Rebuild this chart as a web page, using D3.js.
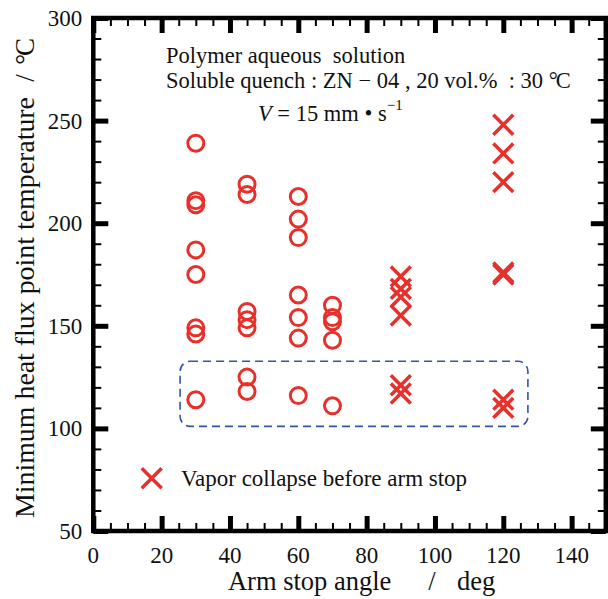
<!DOCTYPE html>
<meta charset="utf-8">
<script src="https://d3js.org/d3.v7.min.js"></script>
<style>
  body { margin: 0; background: #fff; }
  text { font-family: "Liberation Serif", "DejaVu Serif", serif; fill: #111; }
</style>
<div id="my_dataviz"></div>
<script>
  // data (angle in deg, temperature in degC)
  var circleAngles = [30, 30, 30, 30, 30, 30, 30, 30,
                      45, 45, 45, 45, 45, 45, 45,
                      60, 60, 60, 60, 60, 60, 60,
                      70, 70, 70, 70, 70];
  var circleTemps  = [239, 211, 209, 187, 175, 149, 146, 114,
                      219, 214, 157, 153, 149, 125, 118,
                      213, 202, 193, 165, 154, 144, 116,
                      160, 154, 152, 143, 111];
  var crossAngles = [90, 90, 90, 90, 90, 90, 120, 120, 120, 120, 120, 120, 120];
  var crossTemps  = [174, 168, 164, 155, 121, 117, 248, 234, 220, 176, 175, 114, 110];

  var xMajor = [0, 20, 40, 60, 80, 100, 120, 140];
  var yMajor = [50, 100, 150, 200, 250, 300];

  // dashed box around the low group, in data units
  var boxX = [25.4, 127.2], boxY = [101, 132.7];

  var red = "#e8302b", blue = "#3356a8";

  var margin = {top: 18, right: 2.2, bottom: 68, left: 93.3},
      width = 608 - margin.left - margin.right,
      height = 599 - margin.top - margin.bottom;

  var svg = d3.select("#my_dataviz")
    .append("svg")
      .attr("width", 608)
      .attr("height", 599)
    .append("g")
      .attr("transform", "translate(" + margin.left + "," + margin.top + ")");

  var x = d3.scaleLinear().domain([0, 150]).range([0, width]);
  var y = d3.scaleLinear().domain([50, 300]).range([height, 0]);

  var xMinor = d3.range(0, 151, 5).filter(function(d){ return d % 20 != 0; });
  var yMinor = d3.range(50, 301, 10).filter(function(d){ return d % 50 != 0; });

  // ticks pointing inward on all four sides
  function ticks(axisFn, vals, len, w, tr) {
    var g = svg.append("g")
      .attr("transform", tr || null)
      .call(axisFn.tickValues(vals).tickSize(-len).tickFormat(""));
    g.select(".domain").remove();
    g.selectAll("line").attr("stroke", "#000").attr("stroke-width", w);
    return g;
  }
  ticks(d3.axisBottom(x), xMinor, 8, 2, "translate(0," + height + ")");
  ticks(d3.axisBottom(x), xMajor, 15, 5, "translate(0," + height + ")");
  ticks(d3.axisTop(x), xMinor, 8, 2);
  ticks(d3.axisTop(x), xMajor, 15, 5);
  ticks(d3.axisLeft(y), yMinor, 8, 2);
  ticks(d3.axisLeft(y), yMajor, 15, 5);
  ticks(d3.axisRight(y), yMinor, 8, 2, "translate(" + width + ",0)");
  ticks(d3.axisRight(y), yMajor, 15, 5, "translate(" + width + ",0)");

  // tick labels
  svg.append("g").selectAll("text")
    .data(xMajor).enter().append("text")
      .attr("x", function(d){ return x(d); })
      .attr("y", height + 32)
      .attr("text-anchor", "middle")
      .style("font-size", "23px")
      .text(function(d){ return d; });
  svg.append("g").selectAll("text")
    .data(yMajor).enter().append("text")
      .attr("x", -11)
      .attr("y", function(d){ return y(d) + 8; })
      .attr("text-anchor", "end")
      .style("font-size", "23px")
      .text(function(d){ return d; });

  // frame
  svg.append("rect")
    .attr("width", width).attr("height", height)
    .attr("fill", "none").attr("stroke", "#000").attr("stroke-width", 4.5);

  // dashed box
  svg.append("rect")
    .attr("x", x(boxX[0])).attr("y", y(boxY[1]))
    .attr("width", x(boxX[1]) - x(boxX[0]))
    .attr("height", y(boxY[0]) - y(boxY[1]))
    .attr("rx", 10).attr("ry", 10)
    .attr("fill", "none").attr("stroke", blue)
    .attr("stroke-width", 1.6).attr("stroke-dasharray", "8,5");

  // circles
  svg.append("g").selectAll("circle")
    .data(circleAngles).enter().append("circle")
      .attr("cx", function(d){ return x(d); })
      .attr("cy", function(d, i){ return y(circleTemps[i]); })
      .attr("r", 8)
      .attr("fill", "none").attr("stroke", red).attr("stroke-width", 3);

  // crosses
  var cross = d3.symbol().type(d3.symbolX).size(260);
  svg.append("g").selectAll("path")
    .data(crossAngles).enter().append("path")
      .attr("transform", function(d, i){ return "translate(" + x(d) + "," + y(crossTemps[i]) + ")"; })
      .attr("d", cross)
      .attr("fill", "none").attr("stroke", red).attr("stroke-width", 3.5);

  // legend
  svg.append("path")
    .attr("transform", "translate(" + (151.7 - margin.left) + "," + (478.3 - margin.top) + ")")
    .attr("d", cross)
    .attr("fill", "none").attr("stroke", red).attr("stroke-width", 3.5);
  svg.append("text")
    .attr("x", 181 - margin.left).attr("y", 485.5 - margin.top)
    .style("font-size", "23px")
    .text("Vapor collapse before arm stop");

  // condition note
  svg.append("text")
    .attr("x", 166 - margin.left).attr("y", 63 - margin.top)
    .style("font-size", "22.5px")
    .attr("xml:space", "preserve")
    .text("Polymer aqueous  solution");
  var s2 = svg.append("text")
    .attr("x", 166 - margin.left).attr("y", 87.5 - margin.top)
    .style("font-size", "22.5px")
    .attr("xml:space", "preserve");
  s2.append("tspan").text("Soluble quench : ZN \u2212 04 , 20 vol.%  : 30 ");
  s2.append("tspan").attr("letter-spacing", "-2").text("\u00B0C");
  var v = svg.append("text")
    .attr("x", 258 - margin.left).attr("y", 120.5 - margin.top)
    .style("font-size", "22.5px")
    .attr("xml:space", "preserve");
  v.append("tspan").style("font-style", "italic").text("V");
  v.append("tspan").text(" = 15 mm \u2022 s");
  v.append("tspan").attr("dy", -11).style("font-size", "15px").text("\u22121");

  // axis titles
  svg.append("text")
    .attr("x", 228 - margin.left).attr("y", 590 - margin.top)
    .style("font-size", "26.5px")
    .text("Arm stop angle");
  svg.append("text")
    .attr("x", 432 - margin.left).attr("y", 590 - margin.top)
    .attr("text-anchor", "middle")
    .style("font-size", "26.5px")
    .text("/");
  svg.append("text")
    .attr("x", 457 - margin.left).attr("y", 590 - margin.top)
    .style("font-size", "26.5px")
    .text("deg");

  var yt = svg.append("g")
    .attr("transform", "translate(" + (34 - margin.left) + ",0) rotate(-90)");
  yt.append("text")
    .attr("x", -(518 - margin.top))
    .attr("textLength", 421).attr("lengthAdjust", "spacingAndGlyphs")
    .style("font-size", "27.5px")
    .text("Minimum heat flux point temperature");
  yt.append("text")
    .attr("x", -(78 - margin.top))
    .attr("text-anchor", "middle")
    .style("font-size", "27px")
    .text("/");
  yt.append("text")
    .attr("x", -(40 - margin.top))
    .attr("text-anchor", "end")
    .attr("letter-spacing", "-2")
    .style("font-size", "27px")
    .text("\u00B0C");
</script>
